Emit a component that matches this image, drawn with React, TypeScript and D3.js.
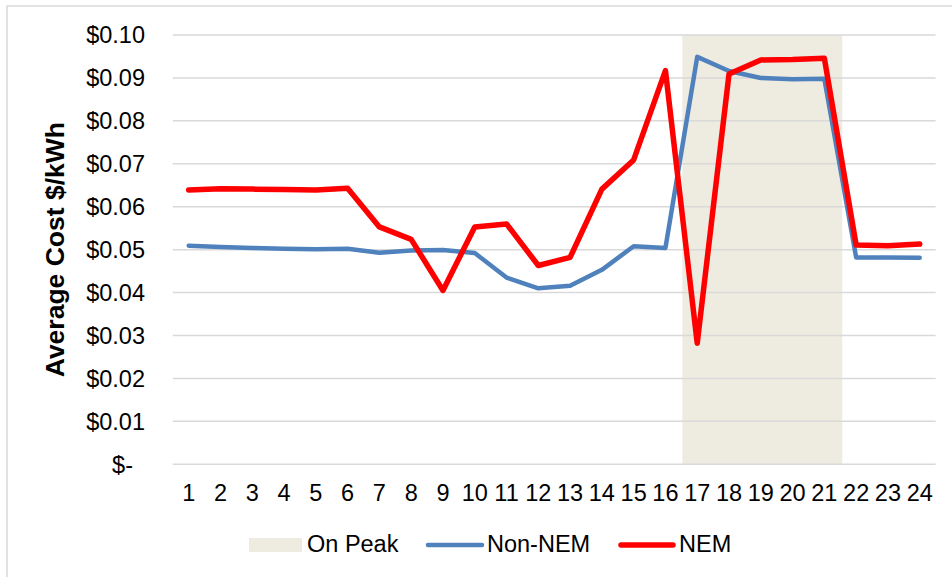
import React from "react";
import * as d3 from "d3";

const hours = Array.from({ length: 24 }, (_, i) => String(i + 1));
const nonNem = [
  0.0509, 0.0506, 0.0504, 0.0502, 0.0501, 0.0502, 0.0493, 0.0498, 0.0499, 0.0492,
  0.0435, 0.041, 0.0416, 0.0453, 0.0508, 0.0504, 0.0949, 0.0916, 0.09, 0.0897,
  0.0898, 0.0482, 0.0482, 0.0481,
];
const nem = [
  0.0639, 0.0642, 0.0641, 0.064, 0.0639, 0.0643, 0.0553, 0.0524, 0.0405, 0.0553,
  0.056, 0.0463, 0.0482, 0.0641, 0.0709, 0.0917, 0.0282, 0.0909, 0.0942, 0.0943,
  0.0946, 0.0511, 0.0509, 0.0513,
];
const onPeakHours = ["17", "18", "19", "20", "21"];
const yTicks = [0, 0.01, 0.02, 0.03, 0.04, 0.05, 0.06, 0.07, 0.08, 0.09, 0.1];
const legendItems = ["On Peak", "Non-NEM", "NEM"];

const W = 952;
const H = 577;
const FONT = "'Liberation Sans', Arial, sans-serif";
const BLUE = "#4F81BD";
const RED = "#FF0000";
const PEAK = "#EEEBE1";
const GRID = "#D9D9D9";

export default function App() {
  const left = 172.8;
  const right = 935.6;
  const top = 35;
  const bottom = 464.3;

  const x = d3.scaleBand<string>().domain(hours).range([left, right]).padding(0);
  const y = d3.scaleLinear().domain([0, 0.1]).range([bottom, top]);
  const cx = (h: string) => (x(h) as number) + x.bandwidth() / 2;

  const line = d3
    .line<number>()
    .x((_, i) => cx(hours[i]))
    .y((d) => y(d));

  const peakX0 = (x(onPeakHours[0]) as number) + 1;
  const peakX1 = (x(onPeakHours[onPeakHours.length - 1]) as number) + x.bandwidth() + 2;

  const fmt = (v: number) => (v === 0 ? "$-" : "$" + v.toFixed(2));

  return (
    <svg
      width={W}
      height={H}
      style={{ position: "absolute", left: 0, top: 0, background: "#fff" }}
      fontFamily={FONT}
    >
      <rect x={7} y={6} width={W} height={H} fill="#fff" stroke={GRID} strokeWidth={1.5} />
      <rect x={peakX0} y={y(0.1)} width={peakX1 - peakX0} height={y(0) - y(0.1)} fill={PEAK} />
      {yTicks.map((t) => (
        <g key={t}>
          <line
            x1={left}
            x2={right}
            y1={y(t)}
            y2={y(t)}
            stroke={GRID}
            strokeWidth={1.5}
          />
          <text
            x={t === 0 ? 133 : 145}
            y={y(t) + 8.4}
            textAnchor="end"
            fontSize={23.5}
            fill="#000"
          >
            {fmt(t)}
          </text>
        </g>
      ))}
      {hours.map((h) => (
        <text key={h} x={cx(h)} y={501} textAnchor="middle" fontSize={23.5} fill="#000">
          {h}
        </text>
      ))}
      <text
        transform={`translate(63.8, ${(top + bottom) / 2}) rotate(-90)`}
        textAnchor="middle"
        fontSize={26.5}
        fontWeight="bold"
        fill="#000"
      >
        Average Cost $/kWh
      </text>
      <path
        d={line(nonNem) || ""}
        fill="none"
        stroke={BLUE}
        strokeWidth={4.5}
        strokeLinejoin="round"
        strokeLinecap="round"
      />
      <path
        d={line(nem) || ""}
        fill="none"
        stroke={RED}
        strokeWidth={5.5}
        strokeLinejoin="round"
        strokeLinecap="round"
      />
      {/* legend */}
      <rect x={249} y={538} width={53} height={14} fill={PEAK} />
      <text x={307} y={551.5} fontSize={23.5} fill="#000">
        {legendItems[0]}
      </text>
      <line x1={428} x2={482} y1={545} y2={545} stroke={BLUE} strokeWidth={4.5} strokeLinecap="round" />
      <text x={487} y={551.5} fontSize={23.5} fill="#000">
        {legendItems[1]}
      </text>
      <line x1={621} x2={673} y1={545} y2={545} stroke={RED} strokeWidth={5.5} strokeLinecap="round" />
      <text x={679} y={551.5} fontSize={23.5} fill="#000">
        {legendItems[2]}
      </text>
    </svg>
  );
}
